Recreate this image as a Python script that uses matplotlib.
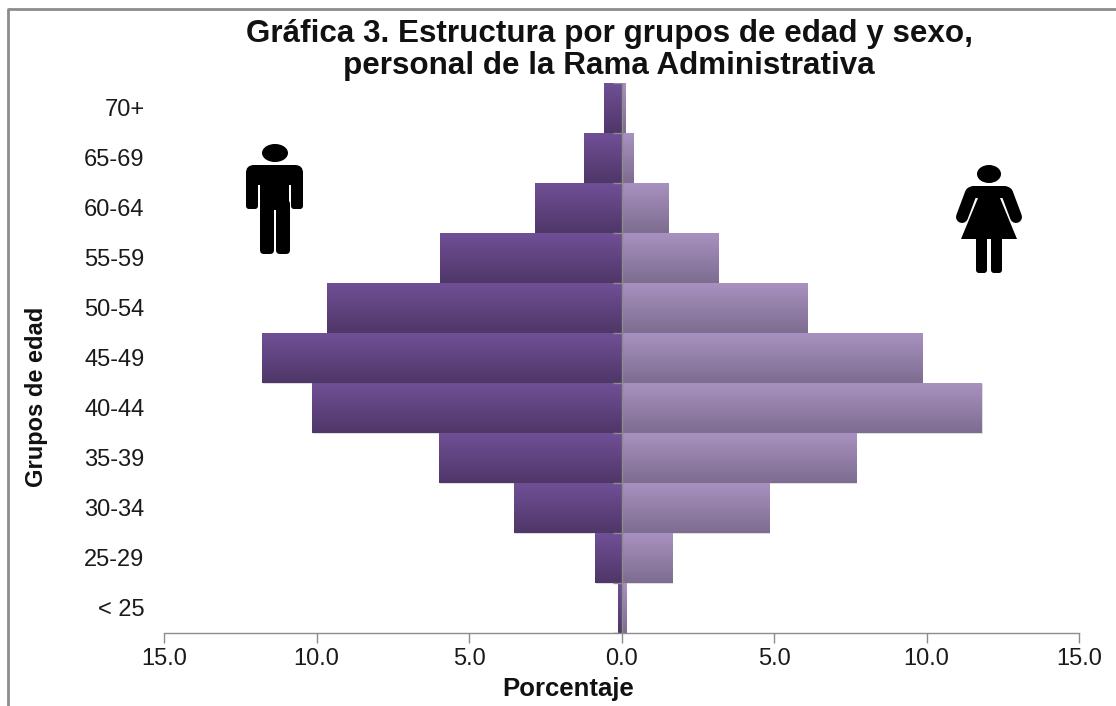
import numpy as np
import matplotlib
matplotlib.use("Agg")
import matplotlib.pyplot as plt
import matplotlib.patheffects as pe
from matplotlib.colors import LinearSegmentedColormap
from matplotlib.patches import Ellipse, FancyBboxPatch, Polygon, Rectangle

plt.rcParams['font.family'] = ['Liberation Sans', 'DejaVu Sans']

grupos = ["< 25", "25-29", "30-34", "35-39", "40-44", "45-49", "50-54", "55-59", "60-64", "65-69", "70+"]
hombres = [0.1, 0.87, 3.53, 6.0, 10.15, 11.8, 9.66, 5.95, 2.84, 1.23, 0.58]
mujeres = [0.15, 1.65, 4.83, 7.68, 11.8, 9.85, 6.08, 3.16, 1.52, 0.37, 0.1]
xticks = [-15, -10, -5, 0, 5, 10, 15]
xlabels = ["15.0", "10.0", "5.0", "0.0", "5.0", "10.0", "15.0"]

W, H = 1116, 706
fig = plt.figure(figsize=(W/100, H/100), dpi=100)
ax = fig.add_axes([164/W, 1-633/H, (1079-164)/W, (633-83)/H])


def gradient_bars(vals, top, bottom):
    cmap = LinearSegmentedColormap.from_list("g", [top, bottom])
    grad = np.linspace(0, 1, 64).reshape(-1, 1)
    bars = ax.barh(range(len(vals)), vals, height=1.0, color=bottom, linewidth=0, zorder=2,
                   path_effects=[pe.SimplePatchShadow(offset=(1, -1), alpha=0.13, shadow_rgbFace='k'), pe.Normal()])
    for b in bars:
        x0, y0, w, h = b.get_x(), b.get_y(), b.get_width(), b.get_height()
        im = ax.imshow(grad, cmap=cmap, extent=(x0, x0+w, y0, y0+h), aspect='auto', zorder=3, vmin=0, vmax=1)
        im.set_clip_path(b)


gradient_bars(-np.array(hombres), "#704F96", "#4F3768")
gradient_bars(np.array(mujeres), "#A891BF", "#7D6D90")

ax.set_xlim(-15, 15)
ax.set_ylim(-0.5, len(grupos)-0.5)
for s in ['top', 'right', 'left']:
    ax.spines[s].set_visible(False)
ax.spines['bottom'].set_color('#8c8c8c')
ax.spines['bottom'].set_linewidth(1)
ax.axvline(0, color='#8c8c8c', lw=1, zorder=4)
# marcas cortas del eje vertical, entre grupos
ax.hlines(np.arange(len(grupos)+1)-0.5, -0.27, 0.05, color='#8c8c8c', lw=1, zorder=4)
ax.set_xticks(xticks)
ax.set_xticklabels(xlabels, fontsize=17, color='#1a1a1a')
ax.tick_params(axis='x', color='#8c8c8c', length=7, width=1, pad=4)
ax.set_yticks(range(len(grupos)))
ax.set_yticklabels(grupos, fontsize=17, color='#1a1a1a')
ax.tick_params(axis='y', length=0, pad=14)

fig.text(609/W, 1-50/H, "Gráfica 3. Estructura por grupos de edad y sexo,\npersonal de la Rama Administrativa",
         ha='center', va='center', fontsize=22.6, fontweight='bold', linespacing=1.09, color='#111111')
fig.text(568/W, 1-689/H, "Porcentaje", ha='center', va='center', fontsize=18.5, fontweight='bold', color='#111111')
fig.text(37/W, 1-397/H, "Grupos de edad", ha='center', va='center', rotation=90, fontsize=17, fontweight='bold', color='#111111')

# capa en pixeles para el marco y los iconos
over = fig.add_axes([0, 0, 1, 1], facecolor='none')
over.set_xlim(0, W)
over.set_ylim(H, 0)
over.axis('off')
over.plot([8, 8, W], [H, 9, 9], color='#8c8c8c', lw=2)


def rbox(x, y, w, h, r=3):
    over.add_patch(FancyBboxPatch((x+r, y+r), w-2*r, h-2*r, boxstyle=f"round,pad={r},rounding_size={r}", fc='k', ec='none'))


# hombre
over.add_patch(Ellipse((275, 153), 26, 18, fc='k'))
rbox(246, 165, 57, 20, 8)
rbox(246, 170, 12, 39, 3)
rbox(291, 170, 12, 39, 3)
over.add_patch(Rectangle((260, 170), 29, 40, fc='k'))
rbox(260, 200, 14, 54, 4)
rbox(276, 200, 14, 54, 4)

# mujer
px = 0.72  # grosor en puntos por pixel
over.add_patch(Ellipse((989, 174), 24, 18, fc='k'))
over.plot([973, 1005], [192, 192], color='k', lw=12*px, solid_capstyle='round')
over.plot([971, 962], [193, 217], color='k', lw=12*px, solid_capstyle='round')
over.plot([1007, 1016], [193, 217], color='k', lw=12*px, solid_capstyle='round')
over.add_patch(Polygon([[975, 186], [1003, 186], [1000, 198], [1017, 239], [961, 239], [978, 198]], fc='k', ec='none'))
rbox(976, 235, 11, 38, 3)
rbox(991, 235, 11, 38, 3)

fig.savefig("out.png", dpi=100)
